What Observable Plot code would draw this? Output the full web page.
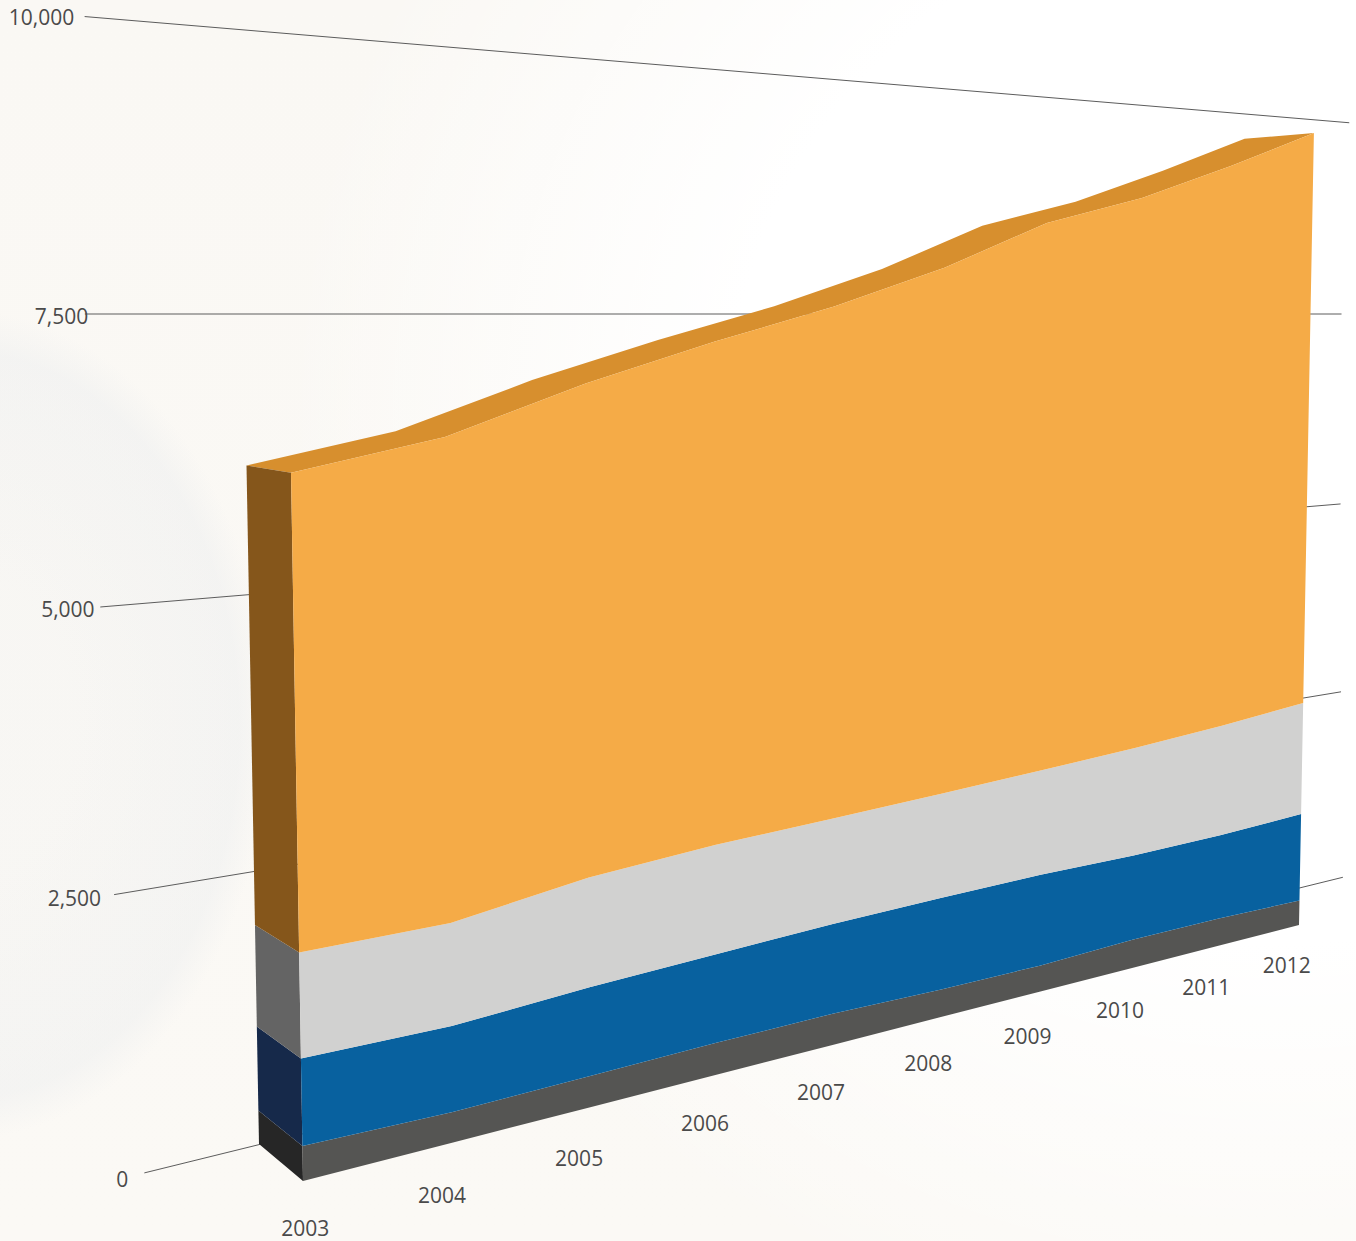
<!DOCTYPE html>
<html>
<head>
<meta charset="utf-8">
<script src="https://cdn.jsdelivr.net/npm/d3@7"></script>
<script src="https://cdn.jsdelivr.net/npm/@observablehq/plot@0.6"></script>
<style>
  html, body { margin: 0; padding: 0; }
  #page {
    width: 1356px; height: 1241px; overflow: hidden;
    background:
      radial-gradient(ellipse 310px 415px at -40px 725px, rgba(228,232,236,.12) 0 35%, rgba(228,232,236,.30) 90%, rgba(228,232,236,0) 100%),
      radial-gradient(ellipse 1000px 950px at 1280px 420px, #ffffff 0 55%, rgba(255,255,255,0) 100%),
      linear-gradient(#faf8f4, #fbf9f5);
  }
  svg { display: block; background: transparent !important; }
</style>
</head>
<body>
<div id="page"></div>
<script>
// Stacked series by year; each array holds one layer's own value.
const years = [2003, 2004, 2005, 2006, 2007, 2008, 2009, 2010, 2011, 2012];
const charcoal = [311, 284, 303, 323, 328, 302, 295, 331, 330, 307];
const blue = [778, 796, 857, 893, 940, 998, 1025, 984, 1005, 1080];
const silver = [932, 950, 1055, 1094, 1097, 1125, 1170, 1245, 1315, 1376];
const amber = [4139, 4385, 4645, 4925, 5210, 5555, 5990, 6235, 6560, 6897];

// Axis rules: value, where each rule starts and ends along the year axis,
// and where its label sits on the rule's extension.
const ruleValues = [0, 2500, 5000, 7500, 10000];
const ruleFromYear = [2002.27, 2002.112, 2002.056, 2001.992, 2002.018];
const ruleToYear = [2013.5, 2013.44, 2013.4, 2013.38, 2013.455];
const ruleLabelYear = [2002.17, 2002.032, 2002.02, 2002.01, 2001.955];

const layerFill = ["#555553", "#08619f", "#d1d1d0", "#f5ab47"];
const sideFill = ["#262626", "#16294a", "#646464", "#85561b"];
const ribbonFill = "#d78f2e";

// Perspective: a unit square (year fraction, value / 7500) mapped onto a quad in page space.
function planeProjection([A, B, C, D]) {
  const dx1 = B[0] - C[0], dx2 = D[0] - C[0], sx = A[0] - B[0] + C[0] - D[0];
  const dy1 = B[1] - C[1], dy2 = D[1] - C[1], sy = A[1] - B[1] + C[1] - D[1];
  const den = dx1 * dy2 - dx2 * dy1;
  const g = (sx * dy2 - dx2 * sy) / den, h = (dx1 * sy - sx * dy1) / den;
  const a = B[0] - A[0] + g * B[0], b = D[0] - A[0] + h * D[0], c = A[0];
  const d = B[1] - A[1] + g * B[1], e = D[1] - A[1] + h * D[1], f = A[1];
  return (year, value) => {
    const t = (year - 2003) / 9, s = value / 7500, w = g * t + h * s + 1;
    return [(a * t + b * s + c) / w, (d * t + e * s + f) / w];
  };
}
const front = planeProjection([[303, 1181], [1299, 925], [1310.5, 314], [288.3, 314]]);
const back = planeProjection([[259, 1144], [1232, 904], [1241.7, 313.5], [243.7, 313.5]]);
// The rules hang on a wall just behind the solid, with flatter vertical convergence.
const wall = planeProjection([[259, 1144], [1232, 904], [1238, 313.5], [249, 313.5]]);

// Cumulative layer edges per year.
const rows = years.map((year, i) => {
  const a = charcoal[i], b = a + blue[i], c = b + silver[i], d = c + amber[i];
  return { year, edges: [0, a, b, c, d] };
});

const marks = [];

// Rules are painted first so the solid hides them.
ruleValues.forEach((value, i) => {
  marks.push(Plot.line([ruleFromYear[i], ruleToYear[i]], {
    x: (y) => wall(y, value)[0],
    y: (y) => wall(y, value)[1],
    stroke: "#5c5c5c",
    strokeWidth: 1
  }));
});

// Top ribbon, between the front and back edges of the upper surface.
marks.push(Plot.area(rows, {
  x1: (d) => front(d.year, d.edges[4])[0],
  y1: (d) => front(d.year, d.edges[4])[1],
  x2: (d) => back(d.year, d.edges[4])[0],
  y2: (d) => back(d.year, d.edges[4])[1],
  fill: ribbonFill
}));

// Left end wall, one strip per layer at the first year.
sideFill.forEach((fill, k) => {
  const y0 = rows[0].edges[k], y1 = rows[0].edges[k + 1];
  marks.push(Plot.area([front, back], {
    x1: (p) => p(2003, y0)[0],
    y1: (p) => p(2003, y0)[1],
    x2: (p) => p(2003, y1)[0],
    y2: (p) => p(2003, y1)[1],
    fill
  }));
});

// Front face, one band per layer.
layerFill.forEach((fill, k) => {
  marks.push(Plot.area(rows, {
    x1: (d) => front(d.year, d.edges[k])[0],
    y1: (d) => front(d.year, d.edges[k])[1],
    x2: (d) => front(d.year, d.edges[k + 1])[0],
    y2: (d) => front(d.year, d.edges[k + 1])[1],
    fill
  }));
});

const textStyle = { fill: "#4a4a4a", fontFamily: "'Open Sans', sans-serif", fontSize: 21 };

// Value labels at the outer end of each rule.
marks.push(Plot.text(ruleValues, {
  x: (v) => wall(ruleLabelYear[ruleValues.indexOf(v)], v)[0],
  y: (v) => wall(ruleLabelYear[ruleValues.indexOf(v)], v)[1],
  text: (v) => d3.format(",")(v),
  textAnchor: "end",
  dy: 3,
  ...textStyle
}));

// Year labels below the front edge.
marks.push(Plot.text(years, {
  x: (y) => front(y, -450)[0] + (y === 2003 ? 1 : -12),
  y: (y) => front(y, -450)[1] + (y === 2003 ? -3 : 5),
  text: (y) => String(y),
  ...textStyle
}));

const chart = Plot.plot({
  width: 1356,
  height: 1241,
  margin: 0,
  style: { background: "transparent" },
  x: { type: "identity", axis: null },
  y: { type: "identity", axis: null },
  marks
});
document.getElementById("page").appendChild(chart);
</script>
</body>
</html>
